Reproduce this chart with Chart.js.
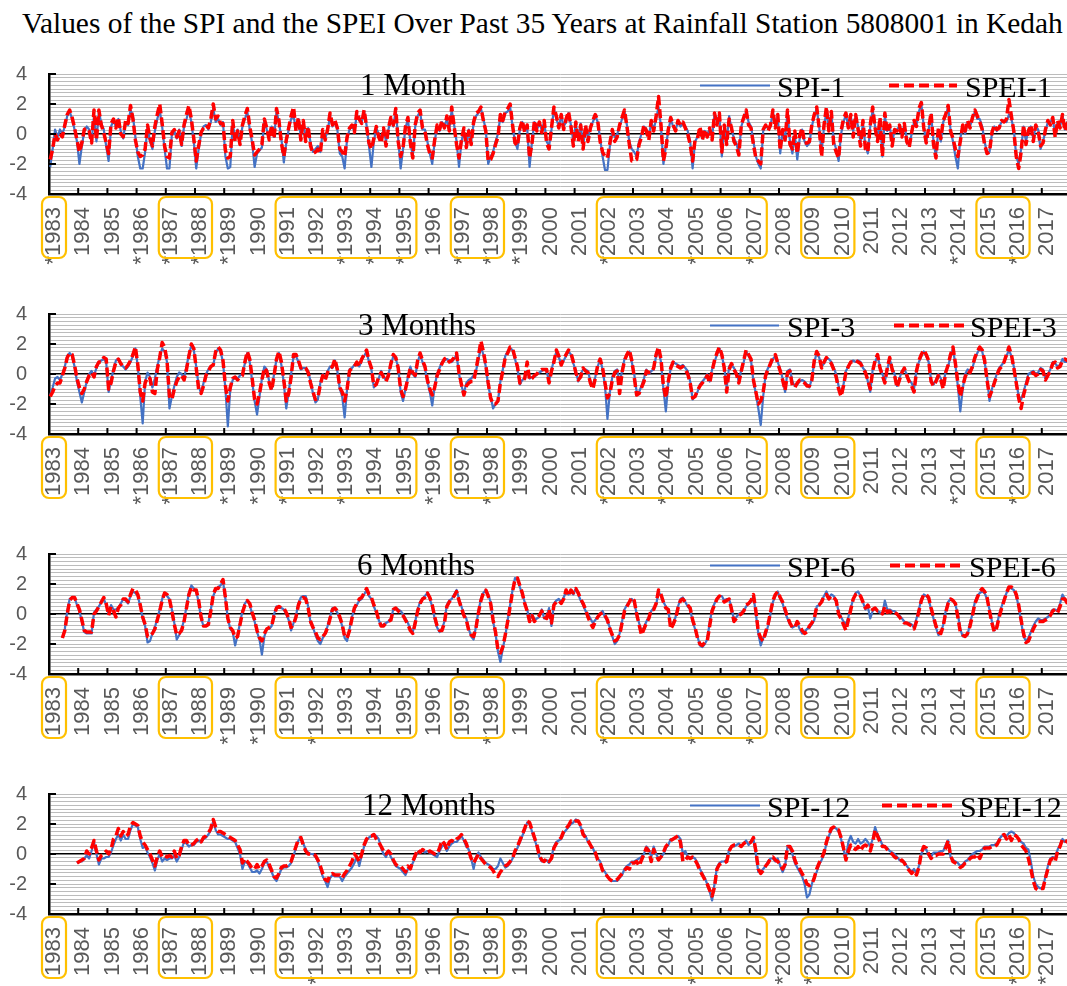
<!DOCTYPE html>
<html>
<head>
<meta charset="utf-8">
<title>SPI and SPEI - Station 5808001</title>
<script src="https://cdn.jsdelivr.net/npm/chart.js@4.4.0/dist/chart.umd.min.js"></script>
<style>
  html, body { margin: 0; padding: 0; background: #fff; width: 1067px; height: 986px; overflow: hidden; }
  #title { position: absolute; left: 22px; top: 9px; line-height: 1; font-size: 29.4px;
           font-family: "Liberation Serif", "Times New Roman", serif; color: #000; white-space: nowrap; }
  .panel { position: absolute; left: 0; width: 1075px; height: 240px; }
</style>
</head>
<body>
<div id="title">Values of the SPI and the SPEI Over Past 35 Years at Rainfall Station 5808001 in Kedah</div>
<div class="panel" style="top:40px"><canvas id="c1" width="1075" height="240"></canvas></div>
<div class="panel" style="top:280px"><canvas id="c2" width="1075" height="240"></canvas></div>
<div class="panel" style="top:520px"><canvas id="c3" width="1075" height="240"></canvas></div>
<div class="panel" style="top:760px"><canvas id="c4" width="1075" height="240"></canvas></div>
<script>
// categories
const years = [1983, 1984, 1985, 1986, 1987, 1988, 1989, 1990, 1991, 1992, 1993, 1994,
  1995, 1996, 1997, 1998, 1999, 2000, 2001, 2002, 2003, 2004, 2005, 2006, 2007, 2008,
  2009, 2010, 2011, 2012, 2013, 2014, 2015, 2016, 2017];

// year groups framed in yellow, and the years marked with * on each panel
const boxedYears = [[1983, 1983], [1987, 1988], [1991, 1995], [1997, 1998], [2002, 2007], [2009, 2010], [2015, 2016]];
const stars1 = [1983, 1986, 1987, 1988, 1989, 1993, 1994, 1995, 1997, 1998, 1999, 2002, 2005, 2007, 2014, 2016];
const stars3 = [1986, 1987, 1989, 1990, 1991, 1993, 1996, 1998, 2002, 2004, 2007, 2014, 2016];
const stars6 = [1989, 1990, 1992, 1998, 2002, 2005, 2007];
const stars12 = [1992, 2005, 2008, 2009, 2016, 2017];

const yLabels = [-4, -2, 0, 2, 4];

// monthly values, one row per year (1983 ... 2017)
const spi1 = [
  -2.2, -1.0, 0.3, -0.2, 0.3, 0.0, 0.5, 1.2, 1.5, 1.0, 0.3, -0.5,
  -2.0, -0.8, 0.2, 0.5, 0.3, -0.5, 1.2, -0.5, 1.5, 0.7, 0.3, -0.8,
  -1.8, 0.5, 0.9, 0.5, 1.0, 0.2, -0.3, 0.8, 0.6, 1.6, 1.2, -0.2,
  -1.5, -2.3, -2.3, -1.2, 0.5, -0.5, -1.0, 0.2, 1.0, 1.6, 0.5, -1.0,
  -2.3, -2.3, 0.0, 0.2, -0.3, 0.3, -0.8, 0.5, 1.0, 1.6, 0.8, -0.5,
  -2.3, -1.0, 0.0, 0.5, 0.6, 0.3, 0.8, 1.7, 0.8, 1.0, 0.6, 0.8,
  -1.5, -2.3, -2.2, 0.7, -0.3, 0.3, -0.5, 0.5, 1.0, 1.5, 0.3, -0.6,
  -2.2, -1.3, -1.1, -0.9, 0.9, 0.3, -0.2, 0.5, -0.2, 1.5, 0.8, -0.3,
  -1.9, -0.6, 0.3, 1.0, 1.2, 0.3, 1.0, -0.2, 0.8, -0.3, 0.4, -0.6,
  -1.2, -1.0, -0.8, -1.2, 0.2, -0.3, 0.2, 1.2, 0.5, 0.8, 0.3, -1.3,
  -1.5, -2.3, -0.3, 0.3, 0.5, 0.2, 1.3, 0.9, 0.8, 1.5, 0.6, -0.8,
  -2.2, -0.5, 0.4, 0.0, -0.3, 0.3, -0.5, 0.3, 1.0, 0.5, 1.6, -0.3,
  -2.3, -1.0, 0.4, 1.0, -0.5, -1.5, 0.5, 1.2, 1.5, 0.3, 0.3, -0.5,
  -1.3, -2.0, -0.5, 0.5, 0.2, 0.8, 0.5, 1.0, 0.3, 1.6, 0.6, -0.5,
  -2.2, -0.5, 0.2, -0.8, 0.3, -0.5, 0.7, 1.2, 1.4, 1.7, 1.0, 0.3,
  -2.0, -1.5, -1.2, -0.5, 0.0, 1.2, 0.8, 1.4, 1.5, 1.8, 0.5, -0.5,
  -1.0, 0.3, 0.8, 0.2, 0.5, -2.2, -0.5, 0.8, 0.3, 0.7, 0.3, 0.8,
  -0.5, -0.8, 0.3, 1.7, 1.0, 0.5, 1.2, 0.5, 0.8, 1.4, 0.6, -0.5,
  0.7, -0.3, 0.7, -0.8, 0.5, -0.3, 0.5, 0.8, 1.2, 0.8, -0.3, -1.5,
  -2.4, -2.4, -0.8, 0.2, -0.2, 0.0, 0.5, 1.0, 1.5, 0.6, -0.5, -1.0,
  -1.2, -1.5, -0.5, 0.0, 0.5, 0.3, -0.2, 0.8, 0.3, 1.0, 1.8, 0.5,
  -2.0, -0.8, 0.2, 1.0, 0.5, 0.3, 0.8, 0.5, 0.7, 0.5, 0.2, -0.5,
  -2.3, -0.5, -0.2, 0.3, -0.3, 0.2, 0.0, 0.3, -0.2, 1.3, 0.8, 1.3,
  -1.5, 0.5, -0.5, 1.2, 0.3, -0.3, -0.6, -1.3, 0.5, 1.0, 1.5, 0.8,
  0.5, -0.5, -1.5, -2.0, -2.3, 0.2, 0.5, 0.4, 0.5, 1.5, 0.5, 1.2,
  -1.3, 0.2, -0.3, 1.5, -0.5, -1.3, 0.0, -1.7, -0.3, 0.3, -0.5, -0.8,
  -0.6, 0.5, 1.2, 1.7, 0.5, -1.3, 0.5, 1.5, 0.3, 1.4, -0.5, -1.0,
  -1.8, 0.0, 0.8, 1.3, 0.5, 1.2, 0.2, 1.2, 0.5, -0.5, 0.7, -0.8,
  -1.3, 0.5, 1.6, 0.5, -0.3, 1.0, -1.5, 1.2, 0.2, 0.5, -0.5, 0.2,
  0.3, 0.5, 0.0, 0.6, -0.3, -0.8, 0.0, 0.8, 0.6, 1.5, 2.0, 0.5,
  -0.5, 0.3, 1.3, -0.5, -1.5, 0.3, -0.5, 0.8, 1.2, 1.8, 0.3, -0.5,
  -1.5, -2.3, -0.3, 0.5, 0.0, 0.8, 0.5, 1.0, 1.5, 1.0, 1.0, 0.5,
  -0.5, -1.3, -1.2, 0.0, 0.5, 0.2, 0.5, 0.8, 0.9, 0.8, 1.3, 1.0,
  0.3, -1.5, -2.0, -1.0, 0.5, -0.5, 0.3, 0.5, -0.3, 0.5, 0.3, -1.0,
  -0.5, 0.2, 0.8, 0.8, 1.0, 0.0, 0.8, 0.5, 1.2, 0.3, 0.8, 1.0
];
const spei1 = [
  -1.7, -1.0, 0.0, -0.4, 0.0, -0.2, 0.6, 1.3, 1.6, 1.1, 0.4, -0.4,
  -1.2, -0.6, 0.3, 0.4, 0.2, -0.6, 1.6, -0.4, 1.6, 0.6, 0.1, -0.6,
  -1.3, 0.7, 1.0, 0.4, 1.1, 0.0, -0.2, 0.9, 0.7, 1.9, 1.0, -0.4,
  -1.2, -1.5, -1.4, -1.0, 0.6, -0.3, -0.8, 0.5, 1.3, 2.0, 0.7, -0.8,
  -1.5, -1.6, 0.1, 0.3, -0.2, 0.2, -0.7, 0.6, 1.3, 1.9, 1.0, -0.3,
  -1.8, -0.8, 0.1, 0.4, 0.6, 0.4, 1.0, 2.0, 1.0, 1.2, 0.7, 0.7,
  -1.1, -1.6, -1.5, 0.9, -0.5, 0.2, -0.7, 0.6, 1.2, 1.7, 0.5, -0.4,
  -1.4, -1.2, -1.0, -0.7, 1.0, 0.4, -0.4, 0.6, -0.3, 1.7, 0.9, -0.6,
  -1.5, -0.4, 0.4, 1.2, 1.8, 0.2, 1.1, -0.4, 0.9, -0.5, 0.5, -0.8,
  -1.3, -1.2, -1.0, -1.3, 0.3, -0.4, 0.3, 1.4, 0.6, 0.9, 0.4, -1.0,
  -1.2, -1.5, -0.2, 0.4, 0.6, 0.1, 1.5, 1.0, 0.7, 1.6, 0.5, -0.6,
  -1.0, -0.3, 0.5, -0.2, -0.6, 0.4, -0.8, 0.4, 1.1, 0.6, 1.7, -0.5,
  -1.5, -0.9, 0.5, 1.1, -0.6, -1.6, 0.6, 1.4, 1.6, 0.4, 0.2, -0.7,
  -1.3, -1.6, -0.4, 0.6, 0.3, 0.9, 0.4, 1.2, 0.2, 1.8, 0.5, -0.7,
  -1.6, -0.4, 0.4, -0.9, 0.2, -0.7, 0.8, 1.4, 1.5, 1.8, 0.9, 0.2,
  -1.8, -1.7, -1.3, -0.7, -0.2, 1.3, 0.9, 1.5, 1.7, 2.0, 0.6, -0.6,
  -0.8, 0.4, 0.9, 0.1, 0.6, -1.6, -0.6, 0.9, 0.2, 0.8, 0.1, 0.9,
  -0.6, -1.0, 0.4, 1.8, 1.2, 0.4, 1.3, 0.3, 1.0, 1.5, 0.5, -0.8,
  0.8, -0.5, 0.6, -1.0, 0.6, -0.5, 0.4, 0.9, 1.3, 0.9, -0.5, -1.2,
  -1.5, -1.6, -0.6, 0.3, -0.5, -0.2, 0.6, 1.1, 1.6, 0.5, -0.7, -1.8,
  -1.8, -1.7, -0.7, -0.2, 0.6, 0.2, -0.4, 0.9, 0.2, 1.2, 2.5, 0.6,
  -1.8, -1.0, 0.3, 1.1, 0.6, 0.2, 0.9, 0.6, 0.8, 0.4, 0.0, -0.7,
  -1.8, -0.4, -0.3, 0.5, -0.4, 0.3, -0.2, 0.4, -0.4, 1.4, 0.6, 1.4,
  -1.2, 0.6, -0.7, 1.0, 0.4, -0.5, -0.8, -1.4, 0.6, 1.1, 1.6, 0.6,
  0.4, -0.7, -1.6, -1.8, -2.0, 0.3, 0.6, 0.2, 0.6, 1.6, 0.4, 1.3,
  -1.1, 0.3, -0.4, 1.6, -0.7, -1.0, 0.2, -1.3, -0.1, 0.4, -0.6, -0.6,
  -0.5, 0.6, 1.3, 1.8, 0.4, -1.5, 0.6, 1.8, 0.2, 1.5, -0.7, -1.2,
  -1.6, 0.2, 1.0, 1.4, 0.4, 1.3, -0.2, 1.3, 0.3, -0.8, 0.9, -1.0,
  -1.2, 0.6, 1.8, 0.4, -0.5, 1.1, -1.5, 1.4, 0.1, 0.6, -0.8, 0.3,
  0.2, 0.6, -0.2, 0.7, -0.5, -0.9, 0.1, 0.9, 0.5, 1.7, 2.1, 0.4,
  -0.6, 0.4, 1.4, -0.7, -1.6, 0.4, -0.3, 0.9, 1.3, 1.9, 0.2, -0.3,
  -1.0, -1.5, -0.5, 0.6, 0.2, 0.9, 0.4, 1.1, 1.6, 1.2, 0.8, 0.3,
  -0.7, -1.3, -1.2, 0.1, 0.6, 0.3, 0.4, 0.9, 0.8, 1.0, 2.3, 1.2,
  0.2, -1.5, -2.3, -1.2, 0.6, -0.7, 0.2, 0.6, -0.5, 0.6, 0.2, -0.8,
  -0.6, 0.3, 0.9, 0.6, 1.1, -0.2, 0.9, 0.4, 1.3, 0.2, 0.7, 0.9
];
const spi3 = [
  -1.4, -0.9, -0.3, -0.2, -0.4, 0.0, 0.5, 1.2, 1.4, 1.2, 0.5, -0.5,
  -1.2, -1.9, -1.2, -0.5, 0.0, 0.2, -0.1, 0.4, 0.8, 0.9, 1.0, 0.8,
  -1.2, -0.4, 0.3, 0.9, 1.0, 0.6, 0.5, 0.3, 0.5, 0.8, 1.2, 1.7,
  0.5, -1.5, -3.3, -0.5, 0.1, -0.2, -0.9, -0.3, 0.5, 1.2, 1.7, 1.5,
  0.8, -2.3, -1.5, -0.8, -0.2, 0.1, 0.0, -0.3, 0.5, 1.3, 1.9, 1.6,
  0.5, -0.8, -1.3, -0.6, 0.0, 0.3, 0.5, 0.6, 1.4, 1.7, 1.5, 0.8,
  -1.0, -3.5, -1.0, -0.4, -0.2, -0.3, -0.1, 0.0, 0.7, 1.4, 0.8, -0.5,
  -1.8, -2.7, -1.5, -0.3, 0.5, 0.3, -0.5, -1.0, 0.0, 1.0, 1.4, 0.6,
  -0.6, -2.3, -1.2, 0.0, 1.2, 1.2, 0.8, 0.3, 0.4, 0.4, 0.2, -0.5,
  -1.3, -1.9, -1.7, -0.6, 0.0, -0.3, 0.2, 0.5, 0.4, 0.9, 0.2, -1.0,
  -1.5, -2.9, -1.0, 0.3, 0.4, 0.6, 0.7, 0.5, 0.9, 1.2, 1.5, 0.8,
  0.3, -0.9, -0.6, -0.3, 0.2, -0.2, -0.4, 0.0, 0.6, 1.2, 1.0, 0.5,
  -1.2, -1.8, -1.0, -0.2, 0.5, 0.0, -0.2, 0.8, 1.3, 0.8, 0.4, -0.5,
  -1.2, -2.1, -0.8, 0.0, 0.4, 0.8, 0.9, 1.0, 0.9, 0.8, 1.0, 1.3,
  0.0, -0.8, -1.3, -0.6, -0.4, -0.3, -0.1, 0.2, 1.0, 1.8, 1.3, 0.5,
  -0.8, -1.5, -2.3, -2.0, -1.8, -0.5, 0.3, 1.2, 1.5, 1.7, 1.6, 1.0,
  0.4, -0.7, -0.4, -0.3, 0.2, -0.3, -0.2, -0.2, 0.0, 0.1, 0.2, 0.3,
  0.2, -0.5, 0.3, 0.9, 1.5, 1.1, 0.7, 0.9, 1.2, 1.5, 1.3, 0.7,
  0.2, -0.5, 0.0, 0.3, 0.3, 0.2, -0.5, -0.8, -0.2, 0.5, 1.0, 0.3,
  -0.8, -3.0, -1.2, -0.2, 0.2, 0.3, -0.6, 0.2, 1.0, 1.2, 1.5, 0.8,
  0.0, -1.2, -1.2, -0.8, -0.3, 0.3, 0.0, 0.2, 0.3, 1.2, 1.6, 0.8,
  -1.0, -2.5, -0.6, 0.4, 0.8, 0.7, 0.6, 0.5, 0.6, 0.4, 0.2, -0.5,
  -1.7, -1.5, -1.2, -0.7, -0.5, -0.3, 0.0, -0.5, 0.3, 0.8, 1.3, 1.7,
  1.2, 0.5, -0.9, 0.5, 0.6, 0.4, 0.1, -0.5, 0.3, 0.8, 1.5, 1.2,
  0.9, -0.5, -1.3, -2.3, -3.4, -1.5, 0.0, 0.4, 0.6, 1.0, 1.2, 0.8,
  0.3, -0.3, -1.2, 0.2, 0.3, -0.5, -0.8, -0.7, -0.5, -0.4, -0.5, -0.7,
  -0.9, -0.3, 0.8, 1.4, 1.1, 0.5, 0.7, 1.0, 1.0, 0.8, 0.4, 0.0,
  -0.8, -1.3, -0.7, 0.2, 0.5, 0.8, 0.9, 0.8, 0.9, 0.8, 0.4, 0.2,
  -0.5, -1.2, 0.3, 0.8, 1.2, 0.5, 0.0, -0.5, 0.3, 1.0, 0.4, 0.0,
  -0.8, -0.3, 0.2, 0.3, 0.0, -0.4, -0.6, -1.0, 0.3, 0.8, 1.2, 1.5,
  1.2, 0.8, -0.4, -0.7, -0.4, 0.0, -0.3, -0.8, 0.2, 0.5, 1.2, 1.7,
  0.6, -0.8, -2.5, -1.0, 0.0, 0.3, 0.2, 0.4, 1.0, 1.4, 1.7, 1.5,
  0.8, -0.2, -1.8, -1.0, -0.5, 0.0, 0.4, 0.6, 0.8, 1.2, 1.6, 1.2,
  0.5, -0.5, -1.5, -1.7, -1.2, -0.6, 0.0, 0.1, 0.2, 0.0, 0.1, 0.4,
  0.3, -0.3, 0.0, 0.3, 0.8, 0.7, 0.5, 0.6, 1.0, 0.8, 0.8, 0.9
];
const spei3 = [
  -1.5, -1.2, -0.8, -0.6, -0.6, -0.1, 0.4, 1.1, 1.4, 1.3, 0.6, -0.3,
  -0.9, -1.3, -1.0, -0.5, -0.1, 0.1, -0.2, 0.5, 0.8, 0.8, 1.1, 1.0,
  -1.0, -0.6, 0.2, 0.8, 1.0, 0.7, 0.5, 0.4, 0.6, 0.9, 1.3, 1.8,
  0.6, -1.2, -1.8, -0.6, -0.2, -0.3, -1.2, -1.3, 0.3, 1.1, 2.1, 1.8,
  0.9, -1.5, -1.7, -1.0, -0.5, -0.2, -0.1, -0.4, 0.3, 1.2, 2.0, 1.7,
  0.4, -1.0, -1.3, -0.8, -0.1, 0.2, 0.5, 0.6, 1.5, 1.8, 1.6, 0.9,
  -0.8, -1.8, -0.9, -0.3, -0.2, -0.4, -0.2, -0.1, 0.8, 1.5, 1.0, -0.3,
  -1.7, -2.0, -1.3, -0.4, 0.4, 0.2, -0.6, -1.1, -0.1, 1.0, 1.5, 0.8,
  -0.4, -1.8, -1.3, -0.2, 1.3, 1.3, 0.9, 0.4, 0.5, 0.4, 0.1, -0.6,
  -1.2, -1.7, -1.6, -0.7, -0.1, -0.4, 0.1, 0.4, 0.5, 1.0, 0.3, -0.9,
  -1.2, -1.8, -1.0, 0.2, 0.4, 0.5, 0.8, 0.5, 1.0, 1.3, 1.6, 0.9,
  0.4, -0.8, -0.7, -0.2, 0.1, -0.2, -0.5, -0.1, 0.7, 1.3, 1.1, 0.4,
  -1.0, -1.5, -1.0, -0.3, 0.4, 0.1, -0.1, 0.9, 1.4, 0.9, 0.5, -0.4,
  -1.0, -1.4, -0.9, -0.1, 0.3, 0.7, 1.0, 1.1, 0.8, 0.9, 1.1, 1.4,
  0.1, -0.7, -1.4, -0.8, -0.6, -0.5, -0.5, 0.3, 1.2, 2.2, 1.5, 0.6,
  -0.6, -1.6, -2.0, -2.0, -1.8, -0.6, 0.2, 1.1, 1.4, 1.8, 1.7, 1.1,
  0.5, -0.6, -0.5, -0.3, 0.8, -0.4, -0.3, -0.1, 0.0, 0.2, 0.3, 0.3,
  0.3, -0.6, 0.2, 0.8, 1.6, 1.2, 0.6, 1.0, 1.3, 1.6, 1.4, 0.8,
  0.1, -0.4, -0.2, 0.4, 0.2, 0.1, -0.6, -1.0, -0.3, 0.6, 1.0, 0.4,
  -0.6, -1.6, -1.3, -0.4, 0.1, 0.2, -1.3, 0.1, 0.9, 1.3, 1.6, 0.9,
  -0.2, -1.4, -1.3, -0.9, -0.5, 0.2, 0.1, 0.1, 0.4, 1.3, 1.8, 1.0,
  -0.8, -1.6, -0.5, 0.4, 0.8, 0.6, 0.5, 0.4, 0.5, 0.3, 0.0, -0.6,
  -1.6, -1.5, -1.1, -0.8, -0.6, -0.4, -0.1, -0.6, 0.2, 0.9, 1.4, 1.8,
  1.3, 0.4, -1.2, 0.3, 0.7, 0.3, 0.0, -0.6, 0.2, 0.9, 1.6, 1.3,
  1.0, -0.4, -1.2, -2.0, -1.8, -1.2, -0.1, 0.3, 0.7, 1.1, 1.3, 0.7,
  0.2, -0.4, -1.1, 0.1, 0.2, -0.8, -0.9, -0.6, -0.4, -0.5, -0.6, -0.8,
  -0.8, -0.4, 0.9, 1.5, 1.2, 0.4, 0.8, 1.1, 0.9, 0.7, 0.3, -0.2,
  -1.0, -1.5, -0.8, 0.1, 0.5, 0.8, 0.8, 0.9, 0.8, 0.7, 0.4, 0.1,
  -0.4, -1.0, 0.2, 0.9, 1.3, 0.4, -0.1, -0.6, 0.4, 1.1, 0.3, -0.1,
  -0.9, -0.4, 0.1, 0.4, -0.1, -0.5, -0.8, -1.2, 0.2, 0.9, 1.3, 1.6,
  1.3, 0.9, -0.5, -0.8, -0.5, -0.1, -0.4, -1.0, 0.1, 0.6, 1.3, 1.8,
  0.7, -0.6, -1.5, -0.8, -0.2, 0.2, 0.1, 0.5, 1.1, 1.5, 1.8, 1.6,
  0.9, -0.4, -1.5, -1.1, -0.6, -0.1, 0.3, 0.5, 0.8, 1.3, 1.8, 1.3,
  0.4, -0.6, -1.6, -2.3, -1.4, -0.8, -0.2, 0.0, 0.1, -0.1, 0.0, 0.3,
  0.2, -0.4, -0.1, 0.2, 0.7, 0.8, 0.4, 0.5, 0.9, 1.0, 0.9, 0.8
];
const spi6 = [
  null, null, null, null, null, -1.6, -1.0, 0.2, 1.0, 1.1, 1.1, 0.6,
  0.2, -0.5, -1.2, -1.3, -1.3, -1.3, 0.1, 0.3, 0.5, 0.8, 1.0, 0.6,
  0.0, 0.6, 0.3, 0.3, 0.4, 0.7, 1.0, 0.9, 0.7, 1.2, 1.5, 1.4,
  1.2, 0.5, -0.3, -0.8, -1.9, -1.8, -1.3, -0.9, -0.3, 0.3, 1.0, 1.4,
  1.2, 1.0, 0.3, -0.6, -1.7, -1.4, -1.0, -0.4, 0.5, 1.4, 1.9, 1.7,
  1.5, 0.8, -0.3, -0.8, -0.8, -0.6, 0.3, 1.2, 1.6, 1.8, 1.9, 2.2,
  1.0, -0.3, -1.0, -1.2, -2.1, -1.4, -0.6, 0.2, 0.7, 0.9, 0.6, 0.0,
  -0.5, -1.2, -1.7, -2.7, -1.5, -1.0, -1.0, -0.8, 0.0, 0.5, 0.4, 0.4,
  0.3, 0.0, -0.4, -1.1, -0.6, -0.1, 0.7, 1.1, 1.2, 1.2, 0.5, -0.6,
  -0.9, -1.4, -1.8, -2.0, -1.6, -1.3, -0.8, -0.2, 0.4, 0.3, 0.1, -0.3,
  -0.8, -1.6, -1.8, -1.0, -0.2, 0.3, 0.6, 0.9, 1.0, 1.3, 1.6, 1.2,
  1.0, 0.5, 0.1, -0.4, -0.8, -0.7, -0.6, -0.5, -0.3, 0.3, 0.4, 0.3,
  0.2, 0.0, -0.3, -0.6, -1.0, -1.2, -0.5, 0.3, 0.8, 1.0, 1.2, 1.4,
  1.0, 0.5, -0.3, -0.9, -1.2, -1.0, -0.5, 0.6, 0.9, 1.0, 1.3, 1.6,
  1.0, 0.5, 0.0, -0.3, -1.0, -1.5, -1.7, -0.8, 0.2, 1.0, 1.4, 1.6,
  1.3, 0.8, -0.5, -1.3, -2.5, -3.2, -2.3, -1.5, -0.4, 0.6, 1.6, 2.4,
  2.3, 1.8, 1.3, 0.8, 0.3, -0.4, 0.0, -0.4, -0.3, -0.2, 0.3, -0.3,
  -0.2, 0.4, -0.8, 0.7, 0.9, 1.0, 0.8, 1.1, 1.5, 1.3, 1.5, 1.3,
  1.7, 1.3, 0.9, 0.6, 0.2, 0.0, -0.3, -0.6, -0.4, -0.2, 0.0, 0.2,
  -0.2, -0.5, -0.9, -1.5, -2.0, -1.8, -1.3, -0.5, 0.3, 0.6, 0.8, 1.0,
  0.8, 0.0, -0.6, -1.2, -0.9, -0.5, -0.2, 0.2, 0.4, 0.6, 1.5, 1.2,
  0.8, 0.5, 0.2, -0.8, -0.6, -0.2, 0.5, 1.0, 1.1, 0.8, 0.5, 0.3,
  -0.5, -1.0, -1.5, -2.1, -2.2, -2.0, -1.7, -0.6, 0.3, 0.7, 1.0, 1.2,
  1.2, 0.9, 1.0, 1.0, 0.4, -0.4, -0.2, 0.0, 0.1, 0.2, 0.5, 0.7,
  0.8, 1.2, 0.0, -1.3, -2.1, -1.6, -1.4, -0.8, 0.0, 0.8, 1.2, 1.5,
  1.0, 0.7, 0.1, -0.3, -0.7, -0.9, -0.8, -0.6, -1.0, -1.3, -1.2, -1.0,
  -0.9, -0.7, -0.4, 0.5, 0.6, 0.9, 1.2, 1.5, 1.1, 1.3, 1.2, 0.8,
  0.2, -0.2, -0.5, -0.7, -0.2, 0.4, 1.0, 1.4, 1.5, 1.2, 0.8, 0.3,
  0.5, -0.3, 0.2, 0.4, 0.2, 0.1, 0.0, 0.9, 0.3, 0.3, 0.2, 0.2,
  0.0, -0.1, -0.3, -0.5, -0.6, -0.6, -0.7, -0.9, -0.3, 0.3, 1.0, 1.3,
  1.2, 1.0, 0.3, -0.3, -0.9, -1.4, -1.3, -0.7, 0.2, 0.8, 1.0, 0.9,
  0.6, 0.0, -1.0, -1.5, -1.5, -1.4, -0.6, 0.0, 0.8, 1.2, 1.4, 1.5,
  1.4, 1.0, 0.3, -0.5, -1.1, -0.8, 0.0, 0.5, 1.0, 1.4, 1.8, 1.7,
  1.6, 1.2, 0.5, -0.5, -1.5, -1.8, -1.6, -1.2, -0.8, -0.5, -0.3, -0.4,
  -0.4, -0.3, -0.2, 0.0, 0.3, 0.3, 0.2, 0.7, 1.3, 1.0, 0.8, 0.6
];
const spei6 = [
  null, null, null, null, null, -1.6, -1.1, 0.0, 0.9, 1.1, 1.1, 0.7,
  0.3, -0.4, -1.1, -1.2, -1.2, -1.2, 0.0, 0.2, 0.5, 0.8, 1.1, 0.7,
  -0.1, 0.5, 0.2, -0.2, 0.4, 0.6, 1.0, 1.0, 0.8, 1.3, 1.7, 1.6,
  1.3, 0.6, -0.2, -0.7, -1.5, -1.5, -1.3, -1.0, -0.4, 0.2, 0.9, 1.4,
  1.3, 1.0, 0.2, -0.7, -1.4, -1.3, -1.1, -0.5, 0.4, 1.3, 1.8, 1.6,
  1.6, 0.9, -0.2, -0.8, -0.8, -0.7, 0.2, 1.3, 1.7, 1.7, 2.0, 2.3,
  1.1, -0.3, -0.9, -1.1, -1.6, -1.5, -0.7, 0.1, 0.6, 0.9, 0.7, 0.1,
  -0.4, -1.1, -1.6, -1.8, -1.3, -1.0, -0.9, -0.8, -0.1, 0.4, 0.5, 0.4,
  0.4, 0.1, -0.3, -0.9, -0.7, -0.2, 0.6, 1.0, 1.1, 1.0, 0.4, -0.5,
  -0.9, -1.2, -1.6, -1.7, -1.5, -1.3, -0.9, -0.3, 0.3, 0.4, 0.2, -0.2,
  -0.7, -1.5, -1.6, -1.1, -0.3, 0.4, 0.7, 1.0, 1.1, 1.4, 1.7, 1.3,
  1.1, 0.6, 0.2, -0.4, -0.8, -0.8, -0.6, -0.5, -0.4, 0.3, 0.4, 0.2,
  0.1, -0.1, -0.4, -0.7, -1.1, -1.3, -0.6, 0.2, 0.7, 1.0, 1.1, 1.4,
  1.1, 0.6, -0.2, -0.8, -1.1, -1.1, -0.6, 0.5, 0.8, 1.0, 1.2, 1.5,
  0.9, 0.4, -0.1, -0.4, -1.1, -1.4, -1.5, -0.9, 0.1, 0.9, 1.4, 1.6,
  1.2, 0.7, -0.4, -1.2, -2.4, -2.6, -2.2, -1.4, -0.5, 0.5, 1.5, 2.3,
  2.4, 1.9, 1.4, 0.7, 0.2, -0.5, -0.1, -0.5, -0.3, -0.1, 0.2, -0.2,
  -0.3, 0.3, -0.6, 0.6, 0.8, 0.9, 0.7, 1.0, 1.6, 1.2, 1.6, 1.4,
  1.7, 1.4, 1.0, 0.7, 0.3, -0.2, -0.6, -0.9, -0.5, -0.2, 0.0, 0.1,
  -0.1, -0.4, -1.0, -1.4, -1.8, -1.7, -1.4, -0.6, 0.2, 0.5, 0.8, 1.1,
  0.9, 0.0, -0.7, -1.4, -1.0, -0.6, -0.3, 0.3, 0.3, 0.7, 1.6, 1.3,
  0.8, 0.4, 0.3, -1.0, -0.7, -0.3, 0.4, 0.9, 1.0, 0.8, 0.6, 0.4,
  -0.4, -0.9, -1.6, -2.0, -2.1, -1.9, -1.8, -0.8, 0.2, 0.6, 1.0, 1.2,
  1.1, 0.8, 0.9, 1.0, 0.3, -0.5, -0.3, -0.1, 0.0, 0.2, 0.6, 0.7,
  0.9, 1.3, 0.2, -1.2, -1.6, -1.8, -1.2, -0.7, 0.1, 0.9, 1.3, 1.5,
  1.1, 0.8, 0.3, -0.2, -0.6, -0.9, -0.9, -0.5, -0.8, -1.1, -1.3, -1.2,
  -0.8, -0.6, -0.3, 0.5, 0.6, 0.8, 1.2, 1.3, 1.0, 1.2, 1.1, 0.9,
  0.0, -0.3, -0.7, -1.1, -0.4, 0.3, 1.0, 1.3, 1.4, 1.2, 0.8, 0.4,
  0.6, 0.2, 0.3, 0.4, 0.2, 0.2, 0.0, 0.5, 0.1, 0.2, 0.0, 0.1,
  0.0, -0.2, -0.4, -0.6, -0.6, -0.7, -0.8, -1.0, -0.5, 0.2, 0.9, 1.3,
  1.3, 1.1, 0.4, -0.2, -0.8, -1.2, -1.3, -0.8, 0.1, 0.7, 1.0, 0.9,
  0.7, -0.2, -1.2, -1.4, -1.5, -1.3, -0.8, -0.1, 0.7, 1.1, 1.5, 1.7,
  1.5, 1.1, 0.2, -0.6, -1.2, -0.9, -0.2, 0.4, 0.9, 1.4, 1.8, 1.8,
  1.7, 1.3, 0.6, -0.4, -1.3, -1.9, -1.8, -1.4, -1.0, -0.7, -0.5, -0.5,
  -0.5, -0.4, -0.3, -0.1, 0.2, 0.3, 0.1, 0.5, 1.0, 1.0, 0.7, 0.5
];
const spi12 = [
  null, null, null, null, null, null, null, null, null, null, null, -0.6,
  -0.5, -0.5, -0.3, -0.1, -0.3, 0.2, 0.8, 0.0, -0.7, -0.3, -0.3, -0.2,
  -0.2, 0.1, 0.6, 1.0, 1.3, 0.9, 1.3, 1.0, 1.0, 1.6, 2.0, 1.9,
  1.8, 1.0, 0.4, 0.5, 0.1, -0.2, -0.6, -1.1, -0.4, 0.0, -0.5, -0.3,
  -0.4, -0.3, -0.3, -0.1, -0.5, -0.2, 0.3, 0.8, 0.7, 0.5, 0.6, 0.6,
  0.8, 0.9, 0.8, 1.0, 1.1, 1.3, 1.6, 2.2, 1.6, 1.3, 1.3, 1.2,
  1.1, 1.0, 1.0, 0.9, 0.8, 0.4, 0.0, -1.0, -0.5, -0.6, -0.9, -1.2,
  -1.2, -1.1, -1.3, -1.0, -0.6, -0.5, -0.9, -1.2, -1.6, -1.8, -1.4, -1.0,
  -0.9, -0.9, -0.8, -0.6, -0.1, 0.4, 0.9, 1.1, 0.7, 0.3, 0.1, 0.0,
  0.0, -0.2, -0.5, -1.0, -1.5, -1.8, -2.2, -1.6, -1.4, -1.5, -1.5, -1.5,
  -1.8, -1.5, -1.3, -1.1, -0.9, -0.6, -0.2, -0.8, -0.1, 0.5, 0.9, 1.1,
  1.2, 1.3, 1.2, 1.0, 0.4, 0.0, -0.2, 0.2, -0.2, -0.5, -0.8, -0.9,
  -1.0, -1.2, -1.4, -1.0, -0.9, -0.6, -0.2, 0.1, 0.2, 0.2, 0.1, 0.2,
  0.1, 0.0, -0.1, -0.2, 0.2, 0.5, 0.6, 0.2, 0.5, 0.7, 0.8, 0.8,
  1.0, 1.2, 0.9, 0.5, 0.3, -0.3, -1.0, -0.2, 0.1, -0.2, -0.4, -0.6,
  -0.7, -0.8, -1.0, -1.0, -0.8, -0.3, -0.6, -0.9, -0.8, -0.6, -0.3, 0.1,
  0.4, 0.8, 1.2, 1.6, 2.1, 2.0, 1.5, 1.0, 0.5, -0.2, -0.5, -0.5,
  -0.4, -0.6, -0.2, 0.5, 0.8, 0.9, 1.0, 1.4, 1.6, 1.8, 2.0, 2.1,
  2.3, 2.2, 1.8, 1.4, 1.2, 0.8, 0.6, 0.4, 0.0, -0.3, -0.5, -1.0,
  -1.2, -1.5, -1.7, -1.8, -1.8, -1.8, -1.6, -1.4, -1.0, -0.8, -0.7, -0.5,
  -0.5, -0.4, -0.3, -0.2, 0.0, 0.5, 0.3, -0.2, 0.5, 0.0, -0.3, -0.2,
  0.0, 0.4, 0.6, 1.0, 1.0, 1.1, 1.2, 1.0, 0.0, 0.2, -0.2, -0.3,
  -0.2, -0.3, -0.6, -1.0, -1.3, -1.6, -2.0, -2.5, -3.1, -2.0, -0.9, -0.6,
  -0.5, -0.5, -0.4, 0.3, 0.5, 0.5, 0.6, 0.7, 0.5, 0.7, 0.9, 0.6,
  0.8, 1.0, 0.0, -1.2, -1.2, -1.0, -0.8, -0.5, -0.3, -0.3, -0.5, -0.3,
  -0.8, -1.2, -0.8, 0.5, 0.4, 0.0, -0.6, -0.9, -1.2, -1.5, -2.0, -2.9,
  -2.7, -2.0, -1.5, -1.2, -0.7, -0.4, 0.0, 0.7, 1.2, 1.6, 1.8, 1.7,
  1.5, 1.0, 0.3, -0.3, 0.8, 1.2, 0.8, 0.7, 1.0, 0.7, 0.8, 1.0,
  0.8, 0.5, 1.0, 1.8, 1.3, 1.0, 0.6, 0.5, 0.4, 0.2, 0.1, 0.0,
  -0.2, -0.4, -0.5, -0.5, -0.8, -1.0, -1.2, -1.0, -1.3, -0.8, 0.0, 0.4,
  0.3, -0.1, -0.2, 0.1, 0.1, 0.1, 0.2, 0.2, 0.6, 0.9, -0.2, -0.4,
  -0.5, -0.6, -0.8, -0.7, -0.5, -0.4, -0.2, 0.0, 0.1, 0.2, 0.2, 0.3,
  0.5, 0.5, 0.5, 0.6, 0.6, 0.7, 1.0, 1.2, 1.3, 1.2, 1.4, 1.5,
  1.4, 1.2, 1.0, 0.8, 0.7, 0.4, 0.3, -0.5, -1.5, -2.0, -2.2, -2.3,
  -2.2, -1.5, -0.8, -0.3, -0.2, -0.3, 0.3, 0.6, 1.0, 0.8, 0.9, 0.8
];
const spei12 = [
  null, null, null, null, null, null, null, null, null, null, null, -0.6,
  -0.5, -0.4, -0.3, 0.2, 0.0, 0.4, 0.9, 0.2, -0.4, -0.1, 0.0, 0.2,
  0.0, 0.3, 1.0, 1.2, 1.7, 1.2, 1.5, 1.2, 1.3, 1.9, 2.1, 2.0,
  1.9, 1.2, 0.8, 0.6, 0.3, 0.0, -0.4, -0.8, -0.2, 0.2, -0.2, -0.1,
  -0.2, -0.1, -0.2, 0.2, -0.3, -0.1, 0.5, 0.9, 0.9, 0.6, 0.6, 0.7,
  0.9, 1.0, 0.8, 1.1, 1.2, 1.4, 1.7, 2.3, 1.8, 1.5, 1.5, 1.4,
  1.3, 1.2, 1.1, 1.0, 0.9, 0.6, 0.3, -0.6, -0.3, -0.5, -0.7, -1.0,
  -1.0, -0.7, -1.0, -0.8, -0.5, -0.4, -0.7, -1.1, -1.5, -1.6, -1.3, -0.9,
  -0.8, -0.8, -0.7, -0.5, 0.0, 0.5, 1.0, 1.1, 0.6, 0.2, 0.0, 0.0,
  0.0, -0.1, -0.4, -0.8, -1.3, -1.7, -1.8, -1.4, -1.3, -1.4, -1.4, -1.4,
  -1.6, -1.3, -1.1, -0.8, -0.5, 0.0, -0.2, -0.5, 0.0, 0.6, 1.0, 1.2,
  1.2, 1.3, 1.0, 0.8, 0.5, 0.2, 0.0, 0.2, 0.0, -0.4, -0.7, -0.8,
  -0.8, -1.0, -1.2, -0.8, -1.0, -0.5, -0.1, 0.3, 0.1, 0.3, 0.2, 0.1,
  0.2, 0.1, 0.0, 0.0, 0.4, 0.9, 0.7, 0.3, 0.8, 0.9, 0.8, 1.0,
  1.1, 1.3, 1.0, 0.7, 0.2, -0.3, -0.6, -0.3, 0.0, -0.3, -0.5, -0.7,
  -0.8, -0.9, -1.1, -1.4, -1.5, -1.2, -1.0, -0.8, -0.7, -0.5, -0.3, 0.2,
  0.5, 0.9, 1.3, 1.7, 2.2, 2.1, 1.6, 1.1, 0.6, -0.1, -0.4, -0.5,
  -0.3, -0.5, -0.3, 0.4, 0.7, 0.9, 1.1, 1.5, 1.7, 1.9, 2.2, 2.1,
  2.2, 2.2, 1.9, 1.3, 1.1, 0.9, 0.6, 0.3, 0.1, -0.4, -0.6, -1.1,
  -1.3, -1.5, -1.7, -1.8, -1.8, -1.7, -1.5, -1.3, -1.1, -0.9, -1.0, -0.6,
  -0.6, -0.5, -0.8, -0.4, 0.0, 0.4, 0.2, -0.5, 0.3, -0.1, -0.4, -0.2,
  0.1, 0.5, 0.7, 0.9, 1.0, 1.1, 1.2, 0.8, -0.5, -0.4, -0.2, -0.3,
  -0.2, -0.4, -0.7, -1.1, -1.4, -1.7, -2.0, -2.4, -2.8, -2.2, -1.0, -0.7,
  -0.6, -0.6, -0.5, 0.2, 0.5, 0.6, 0.6, 0.6, 0.5, 0.7, 0.8, 0.7,
  0.8, 1.1, 0.2, -1.0, -1.3, -1.1, -0.8, -0.6, -0.3, -0.2, -0.4, -0.5,
  -0.7, -1.0, -0.7, 0.5, 0.5, 0.2, -0.4, -0.8, -1.0, -1.3, -1.6, -2.0,
  -2.1, -2.0, -1.6, -1.0, -0.6, -0.3, 0.1, 0.8, 1.3, 1.7, 1.8, 1.6,
  1.6, 1.1, 0.4, -0.4, 0.2, 0.6, 0.4, 0.3, 0.5, 0.2, 0.5, 0.6,
  0.5, 0.2, 0.8, 1.6, 1.2, 0.8, 0.5, 0.5, 0.3, 0.1, 0.0, -0.2,
  -0.3, -0.5, -0.4, -0.6, -0.9, -1.1, -1.3, -1.1, -1.4, -0.9, 0.1, 0.5,
  0.4, 0.0, -0.3, -0.1, -0.1, 0.0, 0.0, 0.0, 0.4, 0.9, -0.1, -0.5,
  -0.6, -0.7, -0.9, -0.8, -0.6, -0.5, -0.3, -0.2, -0.2, 0.0, -0.3, 0.1,
  0.4, 0.4, 0.4, 0.5, 0.5, 0.6, 0.9, 1.2, 1.3, 1.0, 1.3, 0.9,
  1.3, 1.2, 1.0, 0.6, 0.4, 0.2, -0.3, -1.0, -1.8, -2.3, -2.4, -2.3,
  -2.3, -1.6, -1.0, -0.4, -0.3, -0.5, 0.2, 0.5, 1.0, 0.9, 0.8, 0.8
];

const monthLabels = years.flatMap(y => Array.from({ length: 12 }, (_, m) => y + '-' + (m + 1)));
const gridValues = [];
for (let i = 0; i <= 32; i++) gridValues.push(-4 + i * 0.25);

const serif = '"Liberation Serif", "Times New Roman", serif';
const sans = '"Liberation Sans", Arial, sans-serif';
const spiColor = '#4472c4';
const speiColor = '#ff0000';

const panels = [
  { id: 'c1', heading: '1 Month', headX: 360, spi: spi1, spei: spei1, spiLabel: 'SPI-1', speiLabel: 'SPEI-1', stars: stars1, legend: [700, 770, 777, 889, 957, 965] },
  { id: 'c2', heading: '3 Months', headX: 358, spi: spi3, spei: spei3, spiLabel: 'SPI-3', speiLabel: 'SPEI-3', stars: stars3, legend: [710, 779, 787, 894, 964, 970] },
  { id: 'c3', heading: '6 Months', headX: 357, spi: spi6, spei: spei6, spiLabel: 'SPI-6', speiLabel: 'SPEI-6', stars: stars6, legend: [710, 780, 787, 890, 960, 969] },
  { id: 'c4', heading: '12 Months', headX: 362, spi: spi12, spei: spei12, spiLabel: 'SPI-12', speiLabel: 'SPEI-12', stars: stars12, legend: [690, 760, 767, 882, 952, 960] },
];

function roundRect(ctx, x, y, w, h, r) {
  ctx.beginPath();
  ctx.moveTo(x + r, y);
  ctx.arcTo(x + w, y, x + w, y + h, r);
  ctx.arcTo(x + w, y + h, x, y + h, r);
  ctx.arcTo(x, y + h, x, y, r);
  ctx.arcTo(x, y, x + w, y, r);
  ctx.closePath();
}

function makePanel(p) {
  // inward tick marks, yellow year frames, panel heading and legend
  const decor = {
    id: 'decor',
    afterDraw(chart) {
      const { ctx, chartArea: a, scales: { x, y } } = chart;
      const edge = k => (x.getPixelForValue(12 * k) + x.getPixelForValue(12 * k - 1)) / 2;
      ctx.save();

      ctx.strokeStyle = '#000';
      ctx.lineWidth = 2;
      ctx.beginPath();
      for (let k = 1; k <= years.length; k++) {
        const px = edge(k);
        ctx.moveTo(px, a.bottom);
        ctx.lineTo(px, a.bottom - 6);
      }
      yLabels.forEach(v => {
        const py = y.getPixelForValue(v);
        ctx.moveTo(a.left, py);
        ctx.lineTo(a.left + 7, py);
      });
      ctx.stroke();

      ctx.strokeStyle = '#ffc000';
      ctx.lineWidth = 2.2;
      boxedYears.forEach(([y0, y1]) => {
        const l = edge(years.indexOf(y0)) - 7;
        const r = edge(years.indexOf(y1)) + 17;
        roundRect(ctx, l, a.bottom + 3, r - l, 61, 7);
        ctx.stroke();
      });

      ctx.fillStyle = '#000';
      ctx.textBaseline = 'alphabetic';
      ctx.textAlign = 'left';
      ctx.font = '31px ' + serif;
      ctx.fillText(p.heading, p.headX, a.top + 21);

      const [b0, b1, bt, r0, r1, rt] = p.legend;
      const ly = a.top + 11.5;
      ctx.lineWidth = 2.2;
      ctx.strokeStyle = spiColor;
      ctx.beginPath(); ctx.moveTo(b0, ly); ctx.lineTo(b1, ly); ctx.stroke();
      ctx.lineWidth = 4;
      ctx.strokeStyle = speiColor;
      ctx.setLineDash([10, 5]);
      ctx.beginPath(); ctx.moveTo(r0, ly); ctx.lineTo(r1, ly); ctx.stroke();
      ctx.setLineDash([]);
      ctx.font = '30px ' + serif;
      ctx.fillText(p.spiLabel, bt, a.top + 23);
      ctx.fillText(p.speiLabel, rt, a.top + 23);
      ctx.restore();
    }
  };

  new Chart(document.getElementById(p.id), {
    type: 'line',
    data: {
      labels: monthLabels,
      datasets: [
        {
          label: p.spiLabel,
          data: p.spi,
          borderColor: spiColor,
          borderWidth: 2.2,
          pointRadius: 0,
          borderJoinStyle: 'round',
          order: 2,
        },
        {
          label: p.speiLabel,
          data: p.spei,
          borderColor: speiColor,
          borderWidth: 3.5,
          borderDash: [9, 4],
          pointRadius: 0,
          borderJoinStyle: 'round',
          order: 1,
        },
      ],
    },
    options: {
      responsive: false,
      animation: false,
      layout: { padding: { top: 24, right: 4, left: 0, bottom: 0 } },
      plugins: { legend: { display: false }, tooltip: { enabled: false } },
      scales: {
        x: {
          type: 'category',
          offset: true,
          grid: { display: false, drawTicks: false },
          border: { display: true, color: '#000', width: 2.5 },
          afterBuildTicks: axis => { axis.ticks = years.map((_, i) => ({ value: i * 12 })); },
          afterFit: axis => { axis.height = 86; axis.paddingLeft = 0; axis.paddingRight = 0; },
          ticks: {
            autoSkip: false,
            minRotation: 90,
            maxRotation: 90,
            padding: 13,
            labelOffset: 4,
            color: '#595959',
            font: { family: sans, size: 22 },
            callback: v => {
              const yr = years[Math.round(v / 12)];
              return (p.stars.includes(yr) ? '*' : '') + yr;
            },
          },
        },
        y: {
          min: -4,
          max: 4,
          afterBuildTicks: axis => { axis.ticks = gridValues.map(v => ({ value: v })); },
          afterFit: axis => { axis.width = 49; },
          grid: {
            drawTicks: false,
            color: c => c.tick.value === 0 ? '#000' : '#bcbcbc',
            lineWidth: c => c.tick.value === 0 ? 1.5 : 1,
          },
          border: { display: true, color: '#000', width: 2.5 },
          ticks: {
            autoSkip: false,
            padding: 22,
            color: '#595959',
            font: { family: sans, size: 20 },
            callback: v => yLabels.includes(v) ? String(v) : '',
          },
        },
      },
    },
    plugins: [decor],
  });
}

panels.forEach(makePanel);
</script>
</body>
</html>
